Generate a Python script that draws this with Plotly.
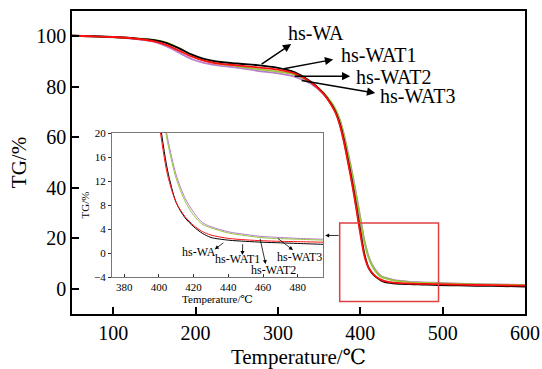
import plotly.graph_objects as go

temperature = [50, 75, 100, 125, 150, 165, 180, 195, 210, 225, 250, 275, 300, 320, 340, 355, 365, 370, 375,
               380, 385, 390, 395, 400, 405, 410, 415, 420, 425, 430, 440, 450, 460, 470, 480, 495, 520, 560, 600]

hs_WA = [100.2, 100.0, 99.7, 99.2, 98.5, 97.3, 95.2, 92.8, 91.0, 90.0, 89.2, 88.6, 87.5, 85.8, 82.0, 77.5, 73.0, 70.0, 65.5,
         59.0, 51.0, 42.5, 33.0, 23.0, 13.8, 8.4, 5.9, 4.4, 3.3, 2.6, 2.15, 1.95, 1.8, 1.7, 1.6, 1.45, 1.3, 1.1, 0.9]
hs_WAT1 = [100.2, 100.0, 99.7, 99.1, 98.0, 96.5, 94.3, 92.0, 90.3, 89.3, 88.5, 87.7, 86.8, 85.3, 81.8, 77.3, 72.7, 69.6, 65.0,
           58.3, 50.2, 41.6, 32.0, 21.8, 13.0, 8.4, 6.1, 4.6, 3.6, 3.0, 2.45, 2.2, 2.05, 1.95, 1.9, 1.8, 1.6, 1.4, 1.2]
hs_WAT2 = [100.2, 100.0, 99.7, 99.2, 98.6, 97.5, 95.3, 92.6, 90.5, 89.3, 88.2, 87.0, 86.0, 84.8, 81.8, 77.8, 73.8, 71.0, 67.0,
           61.0, 53.5, 45.5, 36.8, 27.5, 18.5, 12.4, 8.7, 6.3, 4.8, 4.2, 3.35, 2.9, 2.55, 2.4, 2.3, 2.15, 1.9, 1.6, 1.4]
hs_WAT3 = [100.2, 100.0, 99.6, 99.0, 97.8, 96.0, 93.5, 91.0, 89.5, 88.6, 87.6, 86.3, 85.3, 84.0, 81.2, 77.3, 73.5, 70.8, 67.0,
           61.3, 54.0, 46.2, 37.5, 28.3, 19.2, 13.0, 9.2, 6.8, 5.1, 4.4, 3.55, 3.1, 2.75, 2.6, 2.45, 2.3, 2.0, 1.7, 1.5]

series_names = ["hs-WA", "hs-WAT1", "hs-WAT2", "hs-WAT3"]
series_values = [hs_WA, hs_WAT1, hs_WAT2, hs_WAT3]
colors = ["#000000", "#ff1010", "#94c83a", "#bb7ccc"]
draw_order = [3, 2, 0, 1]

FONT = "Times New Roman, Liberation Serif, DejaVu Serif, serif"

fig = go.Figure()
for i in draw_order:
    fig.add_trace(go.Scatter(x=temperature, y=series_values[i], mode="lines", name=series_names[i],
                             line=dict(color=colors[i], width=1.8, shape="spline", smoothing=0.8),
                             xaxis="x", yaxis="y", showlegend=False))
for i in draw_order:
    fig.add_trace(go.Scatter(x=temperature, y=series_values[i], mode="lines", name=series_names[i],
                             line=dict(color=colors[i], width=1.0, shape="spline", smoothing=0.8),
                             xaxis="x2", yaxis="y2", showlegend=False))

fig.update_layout(
    width=542, height=369,
    margin=dict(l=72, r=17, t=11, b=55, autoexpand=False),
    paper_bgcolor="white", plot_bgcolor="white",
    font=dict(family=FONT, color="black"),
    xaxis=dict(domain=[0, 1], range=[50, 600], tickvals=[100, 200, 300, 400, 500, 600],
               ticks="inside", ticklen=7, tickwidth=1.5, tickcolor="black", automargin=False,
               showline=True, linecolor="black", linewidth=1.5, mirror=True,
               showgrid=False, zeroline=False, tickfont=dict(size=20, family=FONT),
               title=dict(text="Temperature/℃", font=dict(size=21, family=FONT), standoff=8)),
    yaxis=dict(domain=[0, 1], range=[-10, 110], tickvals=[0, 20, 40, 60, 80, 100],
               ticks="inside", ticklen=7, tickwidth=1.5, tickcolor="black", automargin=False,
               showline=True, linecolor="black", linewidth=1.5, mirror=True,
               showgrid=False, zeroline=False, tickfont=dict(size=20, family=FONT),
               title=dict(text="TG/%", font=dict(size=21, family=FONT), standoff=4)),
    xaxis2=dict(domain=[0.0883, 0.554], anchor="y2", range=[373, 494.5],
                tickvals=[380, 400, 420, 440, 460, 480], automargin=False,
                ticks="inside", ticklen=3, tickwidth=1, tickcolor="#333",
                showline=True, linecolor="#777", linewidth=1, mirror=True,
                showgrid=False, zeroline=False, tickfont=dict(size=11, family=FONT),
                title=dict(text="Temperature/℃", font=dict(size=11, family=FONT), standoff=2)),
    yaxis2=dict(domain=[0.122, 0.597], anchor="x2", range=[-4, 20], automargin=False,
                tickvals=[-4, 0, 4, 8, 12, 16, 20],
                ticks="outside", ticklen=3, tickwidth=1, tickcolor="#333",
                showline=True, linecolor="#777", linewidth=1, mirror=True,
                showgrid=False, zeroline=False, tickfont=dict(size=11, family=FONT),
                title=dict(text="TG/%", font=dict(size=11, family=FONT), standoff=2)),
)

# zoom box on main plot
fig.add_shape(type="rect", xref="x", yref="y", x0=375, x1=495, y0=-5, y1=26,
              line=dict(color="#e04040", width=1.5), fillcolor="rgba(0,0,0,0)")

ann = []
# main arrows: (tail T, tail TG, head T, head TG)
main_arrows = [(278.4, 88.6, 316.1, 96.9), (305.2, 87.0, 367.1, 90.8),
               (318.5, 84.2, 387.8, 84.2), (327.0, 82.6, 418.2, 77.5)]
main_texts = [(310, 101.3), (374.4, 92.4), (392.6, 83.8), (421.8, 76.5)]
for (tx, ty, hx, hy), (lx, ly), name in zip(main_arrows, main_texts, series_names):
    ann.append(dict(xref="x", yref="y", axref="x", ayref="y", x=hx, y=hy, ax=tx, ay=ty,
                    text="", showarrow=True, arrowhead=2, arrowsize=1.1, arrowwidth=1.5,
                    arrowcolor="black", standoff=0, startstandoff=0))
    ann.append(dict(xref="x", yref="y", x=lx, y=ly, text=name, showarrow=False,
                    xanchor="left", yanchor="middle", font=dict(size=20, family=FONT)))

# inset arrows
inset_arrows = [(438.0, 1.88, 432.2, 0.62), (448.3, 1.72, 448.1, -0.33),
                (458.1, 2.62, 461.5, -1.83), (467.7, 2.62, 477.2, 0.5)]
inset_texts = [(423.0, 0.22), (445.1, -1.0), (466.1, -2.83), (480.8, -0.67)]
for (tx, ty, hx, hy), (lx, ly), name in zip(inset_arrows, inset_texts, series_names):
    ann.append(dict(xref="x2", yref="y2", axref="x2", ayref="y2", x=hx, y=hy, ax=tx, ay=ty,
                    text="", showarrow=True, arrowhead=2, arrowsize=1.0, arrowwidth=0.8,
                    arrowcolor="black", standoff=0, startstandoff=0))
    ann.append(dict(xref="x2", yref="y2", x=lx, y=ly, text=name, showarrow=False,
                    xanchor="center", yanchor="middle", font=dict(size=12, family=FONT)))

# arrow from box to inset
ann.append(dict(xref="x", yref="y", axref="x", ayref="y", x=357.4, y=21.1, ax=375.6, ay=21.1,
                text="", showarrow=True, arrowhead=2, arrowsize=1.0, arrowwidth=0.8,
                arrowcolor="black", standoff=0, startstandoff=0))

fig.update_layout(annotations=ann)
fig.write_html("out.html", config={"displayModeBar": False},
               post_script="document.body.style.margin='0';document.body.style.padding='0';")
